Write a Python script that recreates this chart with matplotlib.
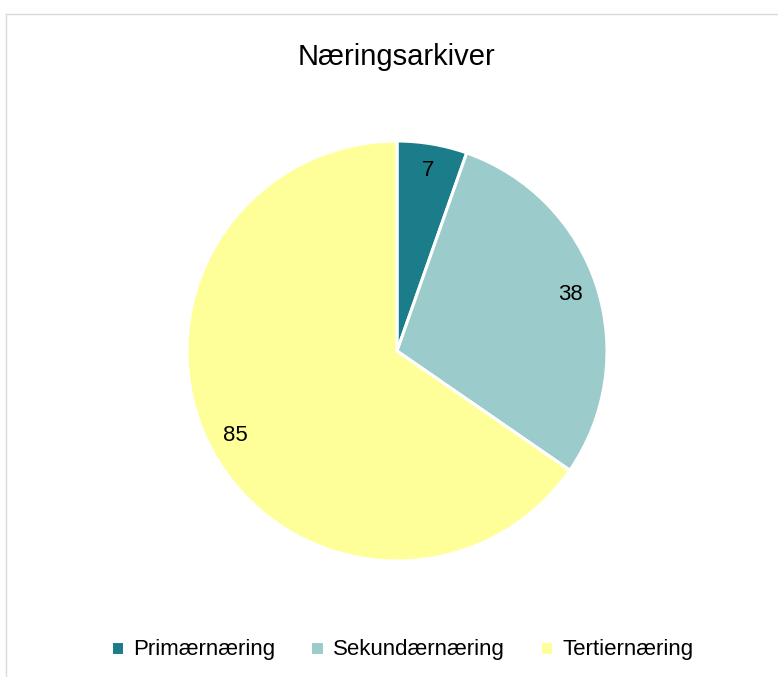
import matplotlib.pyplot as plt
from matplotlib.lines import Line2D

# Data
kategorier = ['Primærnæring', 'Sekundærnæring', 'Tertiernæring']
antall = [7, 38, 85]
farger = ['#1B7D89', '#9BCCCB', '#FFFF99']

plt.rcParams['font.family'] = ['Liberation Sans', 'DejaVu Sans']

fig = plt.figure(figsize=(7.78, 6.77), dpi=100)

# ramme rundt diagrammet (åpen nederst)
W, H = 778, 677
fig.add_artist(Line2D([6 / W, 6 / W], [0, 1 - 14 / H], color='#D9D9D9', lw=1))
fig.add_artist(Line2D([6 / W, 1], [1 - 14 / H, 1 - 14 / H], color='#D9D9D9', lw=1))

ax = fig.add_axes([(397 - 210) / W, (H - 561) / H, 420 / W, 420 / H])
wedges, texts, autotexts = ax.pie(
    antall, colors=farger, startangle=90, counterclock=False,
    autopct=lambda p: f'{round(p * sum(antall) / 100):d}',
    pctdistance=0.87,
    wedgeprops=dict(edgecolor='white', linewidth=2.2),
    textprops=dict(fontsize=16, color='black'))
ax.set_xlim(-1, 1)
ax.set_ylim(-1, 1)
ax.set_aspect('equal')

fig.text(397 / W, 1 - 57 / H, 'Næringsarkiver', ha='center', va='center', fontsize=21)

fig.legend(wedges, kategorier, loc='center', bbox_to_anchor=(402 / W, 1 - 650 / H),
           ncol=3, frameon=False, fontsize=16, handlelength=0.6, handleheight=0.6,
           handletextpad=0.4, columnspacing=1.6)

plt.savefig('out.png', dpi=100)
